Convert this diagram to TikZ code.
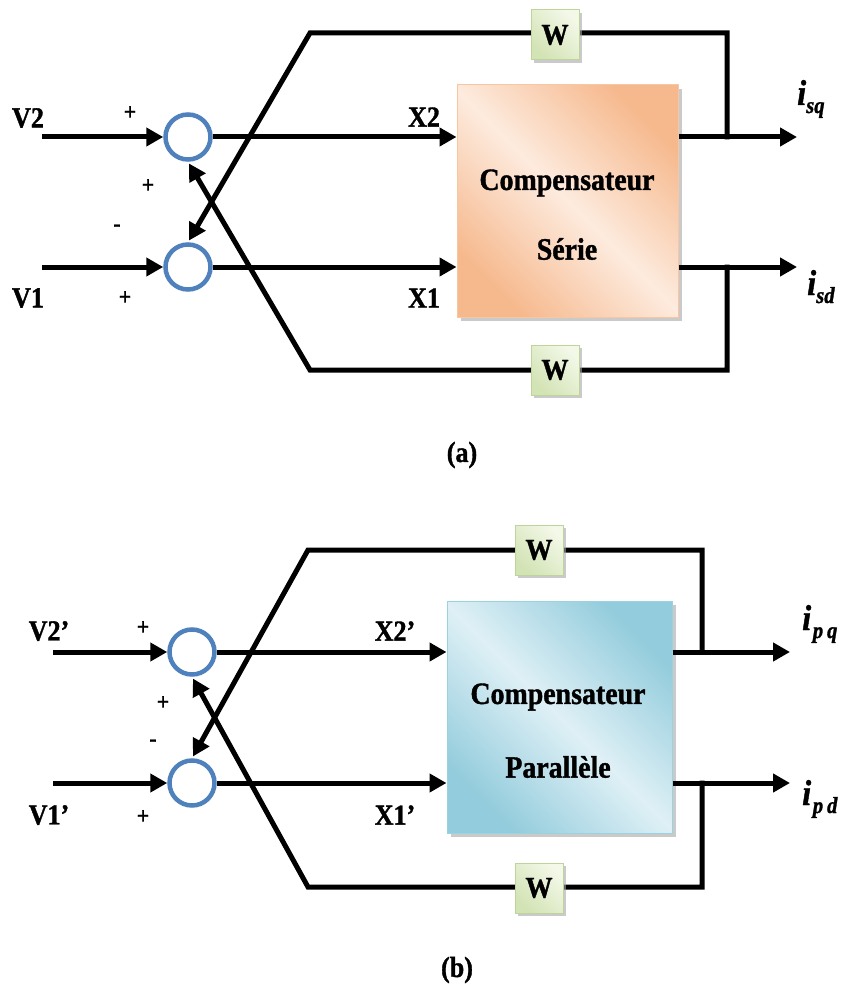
\documentclass[tikz,border=0pt]{standalone}
\usepackage{fontspec}
\setmainfont{Liberation Serif}
\newfontfamily\cond{Liberation Serif}[FakeStretch=0.9,FakeBold=1.2]
\usetikzlibrary{arrows.meta,shadows}
\definecolor{orgdark}{HTML}{F6B98E}
\definecolor{orglight}{HTML}{FDEBDE}
\definecolor{orgedge}{HTML}{F8C7A2}
\definecolor{bludark}{HTML}{93CCDC}
\definecolor{blulight}{HTML}{DFF0F6}
\definecolor{bluedge}{HTML}{9AD2E0}
\definecolor{grnlight}{HTML}{F3F8E8}
\definecolor{grndark}{HTML}{D2E3B4}
\definecolor{grnedge}{HTML}{BFD49A}
\definecolor{sumblue}{HTML}{4F81BD}
\newcommand\myI[1]{{\cond\fontsize{36}{36}\selectfont\bfseries\itshape #1}}
\newcommand\mySub[1]{\raisebox{-8pt}{\cond\fontsize{23}{23}\selectfont\bfseries\itshape #1}}
\begin{document}
\begin{tikzpicture}[x=1pt,y=-1pt,
  wire/.style={line width=5pt, line join=miter},
  arr/.style={wire,-{Triangle[length=17pt,width=18pt]}},
  sumnode/.style={circle, draw=sumblue, line width=4.5pt, fill=white, minimum size=45pt, inner sep=0pt},
  lbl/.style={font=\cond\fontsize{29}{29}\selectfont\bfseries, inner sep=0pt},
  sgn/.style={font=\cond\fontsize{24}{24}\selectfont\bfseries, inner sep=0pt},
  wbox/.style={draw=grnedge, line width=1pt, top color=grnlight, bottom color=grndark, shading angle=-45,
    minimum width=48pt, minimum height=50pt, inner sep=0pt, font=\cond\fontsize{30}{30}\selectfont\bfseries,
    drop shadow={shadow xshift=3pt, shadow yshift=-3pt, fill=gray!70, opacity=0.6}},
  compa/.style={draw=orgedge, line width=1pt, top color=orgdark, bottom color=orgdark, middle color=orglight, shading angle=-45,
    minimum width=221pt, minimum height=232pt, inner sep=0pt,
    drop shadow={shadow xshift=4pt, shadow yshift=-4pt, fill=gray!70, opacity=0.6}},
  compb/.style={draw=bluedge, line width=1pt, top color=bludark, bottom color=bludark, middle color=blulight, shading angle=-45,
    minimum width=225pt, minimum height=232pt, inner sep=0pt,
    drop shadow={shadow xshift=4pt, shadow yshift=-4pt, fill=gray!70, opacity=0.6}},
  boxtxt/.style={font=\cond\fontsize{31}{31}\selectfont\bfseries, inner sep=0pt}
]
\useasboundingbox (0,0) rectangle (848,992);

% ---------------- (a) ----------------
\node[sumnode] (ua) at (188,137) {};
\node[sumnode] (la) at (188,267) {};
\node[compa] (ca) at (567.5,201) {};
\node[boxtxt] (ca1) at (567,183) {Compensateur};
\node[boxtxt] (ca2) at (567,249) {Série};

\coordinate (v2a) at (42,137);
\coordinate (v1a) at (42,267);
\coordinate (oqa) at (797,137);
\coordinate (oda) at (797,267);
\coordinate (jqa) at (727,139.5);
\coordinate (jda) at (727,264.5);
\coordinate (tra) at (727,33);
\coordinate (tla) at (310,33);
\coordinate (bra) at (727,370);
\coordinate (bla) at (310,370);

\draw[arr] (v2a) -- (ua);
\draw[arr] (v1a) -- (la);
\draw[arr] (ua) -- (ca.west |- ua);
\draw[arr] (la) -- (ca.west |- la);
\draw[arr] (ca.east |- oqa) -- (oqa);
\draw[arr] (ca.east |- oda) -- (oda);
\draw[arr, shorten >=2pt] (jqa) -- (tra) -- (tla) -- (la.north);
\draw[arr, shorten >=2pt] (jda) -- (bra) -- (bla) -- (ua.south);

\node[wbox] (wta) at (555,35) {W};
\node[wbox] (wba) at (555,370) {W};

\node[lbl] (lv2a) at (28,118) {V2};
\node[lbl] (lv1a) at (28,298) {V1};
\node[lbl] (lx2a) at (424,117) {X2};
\node[lbl] (lx1a) at (424,298) {X1};
\node[sgn] (s1a) at (130,113) {+};
\node[sgn] (s2a) at (148,186) {+};
\node[sgn] (s3a) at (117,228) {-};
\node[sgn] (s4a) at (125,298) {+};
\node[anchor=base west, inner sep=0pt] (isq) at (797,105) {\myI{i}\mySub{sq}};
\node[anchor=base west, inner sep=0pt] (isd) at (807,295) {\myI{i}\mySub{sd}};
\node[lbl] (capa) at (462,455) {(a)};

% ---------------- (b) ----------------
\node[sumnode] (ub) at (192,652) {};
\node[sumnode] (lb) at (192,783) {};
\node[compb] (cb) at (559.5,717) {};
\node[boxtxt] (cb1) at (558,697) {Compensateur};
\node[boxtxt] (cb2) at (558,767) {Parallèle};

\coordinate (v2b) at (53,652);
\coordinate (v1b) at (53,783);
\coordinate (oqb) at (790,652);
\coordinate (odb) at (790,783);
\coordinate (jqb) at (702,654.5);
\coordinate (jdb) at (702,780.5);
\coordinate (trb) at (702,550);
\coordinate (tlb) at (308,550);
\coordinate (brb) at (702,887);
\coordinate (blb) at (308,887);

\draw[arr] (v2b) -- (ub);
\draw[arr] (v1b) -- (lb);
\draw[arr] (ub) -- (cb.west |- ub);
\draw[arr] (lb) -- (cb.west |- lb);
\draw[arr] (cb.east |- oqb) -- (oqb);
\draw[arr] (cb.east |- odb) -- (odb);
\draw[arr, shorten >=2pt] (jqb) -- (trb) -- (tlb) -- (lb.north);
\draw[arr, shorten >=2pt] (jdb) -- (brb) -- (blb) -- (ub.south);

\node[wbox] (wtb) at (539,550) {W};
\node[wbox] (wbb) at (539,888) {W};

\node[lbl] (lv2b) at (49,631) {V2’};
\node[lbl] (lv1b) at (49,815) {V1’};
\node[lbl] (lx2b) at (395,631) {X2’};
\node[lbl] (lx1b) at (395,815) {X1’};
\node[sgn] (s1b) at (143,628) {+};
\node[sgn] (s2b) at (163,703) {+};
\node[sgn] (s3b) at (153,743) {-};
\node[sgn] (s4b) at (143,817) {+};
\node[anchor=base west, inner sep=0pt] (ipq) at (802,630) {\myI{i}\,\mySub{p\,q}};
\node[anchor=base west, inner sep=0pt] (ipd) at (802,805) {\myI{i}\,\mySub{p\,d}};
\node[lbl] (capb) at (457,970) {(b)};
\end{tikzpicture}
\end{document}
